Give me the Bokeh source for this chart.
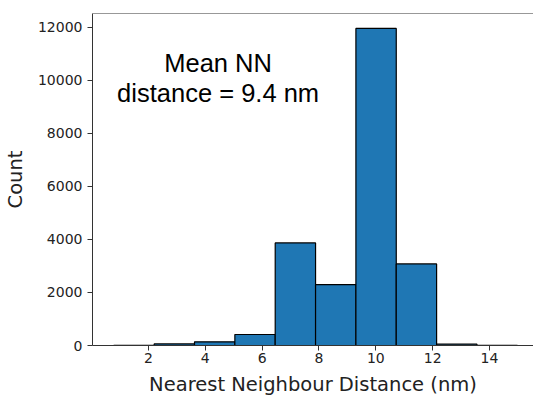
from bokeh.plotting import figure
from bokeh.models import Range1d, FixedTicker, Span, Label
from bokeh.embed import file_html
from bokeh.resources import INLINE

# Histogram data (bin edges in nm, counts per bin)
bin_edges = [0.78, 2.20, 3.62, 5.04, 6.46, 7.88, 9.30, 10.72, 12.14, 13.56, 14.98]
counts = [10, 60, 140, 415, 3865, 2295, 11950, 3075, 50, 10]
x_ticks = [2, 4, 6, 8, 10, 12, 14]
y_ticks = [0, 2000, 4000, 6000, 8000, 10000, 12000]
annotation_lines = ["Mean NN", "distance = 9.4 nm"]

lefts = bin_edges[:-1]
rights = bin_edges[1:]
bottoms = [0] * len(counts)

Y_TOP = 12514

p = figure(width=533, height=398, output_backend="svg", toolbar_location=None,
           x_range=Range1d(0.03, 15.55), y_range=Range1d(0, Y_TOP),
           min_border_left=92, min_border_right=0, min_border_top=13, min_border_bottom=0)

p.quad(left=lefts, right=rights, bottom=bottoms, top=counts,
       fill_color="#1f77b4", line_color="black", line_width=1.2)

p.grid.visible = False
p.outline_line_color = None
p.background_fill_color = "white"
p.border_fill_color = "white"

# top spine
p.add_layout(Span(location=Y_TOP, dimension="width", line_color="#333333", line_width=1))

for ax in (p.xaxis[0], p.yaxis[0]):
    ax.axis_line_color = "#333333"
    ax.axis_line_width = 1
    ax.major_tick_line_color = "#333333"
    ax.major_tick_in = 0
    ax.major_tick_out = 5
    ax.minor_tick_in = 0
    ax.minor_tick_out = 0
    ax.major_label_text_font = "DejaVu Sans"
    ax.major_label_text_font_size = "14px"
    ax.major_label_text_color = "#222222"
    ax.axis_label_text_font = "DejaVu Sans"
    ax.axis_label_text_font_size = "19.5px"
    ax.axis_label_text_font_style = "normal"
    ax.axis_label_text_color = "#222222"

p.xaxis.ticker = FixedTicker(ticks=x_ticks)
p.yaxis.ticker = FixedTicker(ticks=y_ticks)
p.xaxis.axis_label = "Nearest Neighbour Distance (nm)"
p.yaxis.axis_label = "Count"
p.xaxis.major_label_standoff = 2
p.yaxis.major_label_standoff = 5
p.xaxis.axis_label_standoff = 7
p.yaxis.axis_label_standoff = 8

for txt, yv in zip(annotation_lines, [10660, 9500]):
    p.add_layout(Label(x=4.45, y=yv, text=txt, text_align="center",
                       text_baseline="alphabetic", text_font="Liberation Sans",
                       text_font_size="25.5px", text_color="black"))

open("out.html", "w").write(file_html(p, INLINE))
